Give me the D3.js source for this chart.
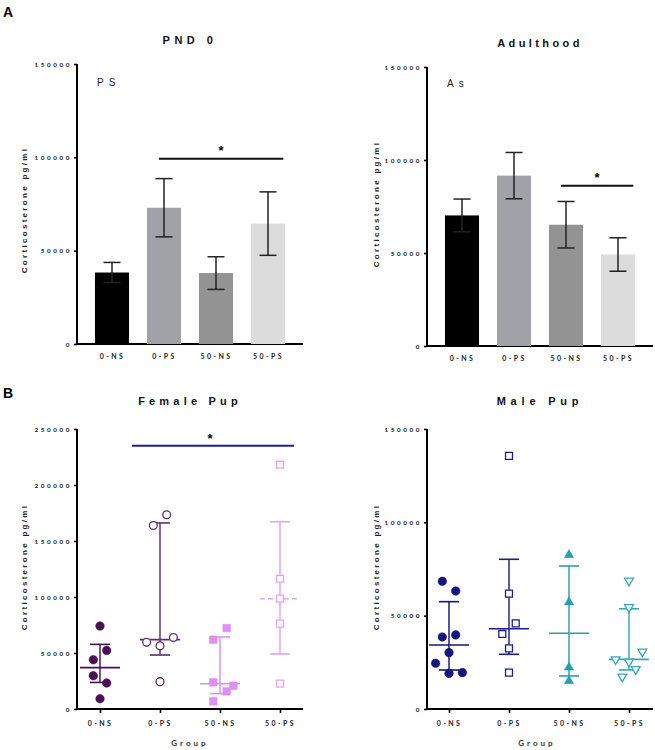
<!DOCTYPE html>
<html><head><meta charset="utf-8">
<script src="https://cdn.jsdelivr.net/npm/d3@7"></script>
<style>
body{margin:0;background:#fff;}
svg{display:block;font-family:"Liberation Sans",Arial,sans-serif;}
</style></head>
<body>
<svg id="c" width="655" height="750"></svg>
<script>
// ---------- DATA ----------
const groups = ["0-NS", "0-PS", "50-NS", "50-PS"];
const barTicks = [0, 50000, 100000, 150000];
const femaleTicks = [0, 50000, 100000, 150000, 200000, 250000];
const maleTicks = [0, 50000, 100000, 150000];

const pnd0Mean = [38300, 73000, 38000, 64500];
const pnd0Err  = [5400, 15600, 8750, 17000];
const adultMean = [70200, 91600, 65200, 49200];
const adultErr  = [8800, 12450, 12500, 9000];
const barColors = ["#000000", "#a1a1a8", "#939393", "#dcdcdc"];

const femaleValues = [
  [74100, 52300, 44000, 29700, 23200, 9200],
  [163900, 173500, 59500, 56500, 63900, 24400],
  [61900, 72300, 23750, 15700, 20800, 6800],
  [218100, 116300, 98500, 76200, 22600]
];
const femaleCols = [[0,1,-1,-1,1,0],[-1,1,-2,0,2,0],[-1,1,-1,1,2,-1],[0,0,0,0,0]];
const femaleMedian = [36900, 61900, 22600, 98500];
const femaleQ1 = [23700, 48200, 13700, 49100];
const femaleQ3 = [57700, 166100, 64300, 167200];
const femaleColors = ["#4b0e55", "#5e2d70", "#df8ff0", "#e4a2f3"];
const femaleShapes = ["circleFill", "circleOpen", "squareFill", "squareOpen"];

const maleValues = [
  [68400, 63200, 38600, 39700, 30200, 24500, 19100, 19500],
  [135600, 61800, 45900, 40200, 32500, 19500],
  [82500, 57200, 22300, 15000],
  [68700, 54500, 30700, 26600, 25300, 21300, 17300]
];
const maleCols = [[-1,1,-1,1,0,-2,0,2],[0,0,1,-1,0,0],[0,0,0,0],[0,0,2,-2,0,1,-1]];
const maleMedian = [34300, 43000, 40600, 26600];
const maleQ1 = [20900, 29300, 17700, 20900];
const maleQ3 = [57500, 80200, 76600, 53700];
const maleColors = ["#14157f", "#1c1d8a", "#2a9db0", "#36a7b8"];
const maleShapes = ["circleFill", "squareOpen", "triUpFill", "triDownOpen"];

// ---------- DRAW ----------
const svg = d3.select("#c");

function frame(p) {
  const g = svg.append("g");
  const y = d3.scaleLinear().domain([0, p.max]).range([p.y0, p.y1]);
  const x = d3.scalePoint().domain(groups).range([p.c0, p.c1]);
  // y axis
  const ya = g.append("g").attr("transform", `translate(${p.x0},0)`)
    .call(d3.axisLeft(y).tickValues(p.ticks).tickSize(3).tickSizeOuter(0).tickFormat(d3.format("d")));
  ya.select(".domain").attr("stroke-width", 2).attr("d", `M0,${p.y0+1}V${p.y1}`);
  ya.selectAll(".tick line").attr("stroke-width", 1.6);
  ya.selectAll(".tick text").attr("font-size", 6.3).attr("font-weight", "bold")
    .attr("letter-spacing", "2.6px").attr("fill", "#222").attr("x", -5).attr("dy", "0.35em")
    .attr("font-family", "Lato, sans-serif");
  // x axis
  const xa = g.append("g").attr("transform", `translate(0,${p.y0})`)
    .call(d3.axisBottom(x).tickSize(p.xTicks ? 3 : 0).tickSizeOuter(0));
  xa.select(".domain").remove();
  xa.selectAll(".tick line").attr("stroke-width", 1.6).attr("transform", "translate(0,1)");
  xa.selectAll(".tick text").attr("font-size", 7).attr("font-weight", "bold")
    .attr("letter-spacing", "2.4px").attr("fill", "#222").attr("y", p.xTicks ? 12 : 10).attr("dy", "0.71em")
    .attr("font-family", "Lato, sans-serif");
  g.append("line").attr("x1", p.x0 - 1).attr("x2", p.x1).attr("y1", p.y0).attr("y2", p.y0)
    .attr("stroke", "#000").attr("stroke-width", 2);
  // y label
  g.append("text").attr("transform", `translate(${p.ylx},${p.yly}) rotate(-90)`)
    .attr("text-anchor", "middle").attr("font-size", 8).attr("font-weight", "bold")
    .attr("letter-spacing", "2.3px").attr("fill", "#222").text("Corticosterone pg/ml");
  // title
  g.append("text").attr("x", p.tx).attr("y", p.ty).attr("text-anchor", "middle")
    .attr("font-size", 11).attr("font-weight", "bold").attr("letter-spacing", p.tls || "4px")
    .attr("fill", "#111").text(p.title);
  if (p.group) {
    g.append("text").attr("x", p.gx).attr("y", 746).attr("text-anchor", "middle")
      .attr("font-size", 8).attr("font-weight", "bold").attr("letter-spacing", "3px")
      .attr("fill", "#333").attr("font-family", "Lato, sans-serif").text("Group");
  }
  return {g, x, y};
}

function barPanel(p, means, errs) {
  const {g, x, y} = frame(p);
  const bw = x.step() * 0.655;
  g.selectAll("rect.bar").data(means).join("rect")
    .attr("x", (d, i) => x(groups[i]) - bw / 2).attr("width", bw)
    .attr("y", d => y(d)).attr("height", d => p.y0 - y(d))
    .attr("fill", (d, i) => barColors[i]);
  const eg = g.append("g").attr("stroke", "#222").attr("stroke-width", 1.5);
  means.forEach((m, i) => {
    const cx = x(groups[i]);
    eg.append("line").attr("x1", cx).attr("x2", cx).attr("y1", y(m + errs[i])).attr("y2", y(m - errs[i]));
    eg.append("line").attr("x1", cx - bw / 4).attr("x2", cx + bw / 4).attr("y1", y(m + errs[i])).attr("y2", y(m + errs[i]));
    eg.append("line").attr("x1", cx - bw / 4).attr("x2", cx + bw / 4).attr("y1", y(m - errs[i])).attr("y2", y(m - errs[i]));
  });
  // significance
  const a = x(groups[p.sig[0]]) - bw * 0.15, b = x(groups[p.sig[1]]) + bw * 0.45;
  g.append("line").attr("x1", a).attr("x2", b).attr("y1", y(p.sigY)).attr("y2", y(p.sigY))
    .attr("stroke", "#111").attr("stroke-width", 2);
  g.append("text").attr("x", (a + b) / 2).attr("y", y(p.sigY) - 4).attr("text-anchor", "middle")
    .attr("font-size", 13).attr("font-weight", "bold").text("*");
  g.append("text").attr("x", p.x0 + 20).attr("y", p.labY).attr("font-size", 10)
    .attr("letter-spacing", "5px").attr("fill", "#222").text(p.label);
}

function marker(g, shape, cx, cy, color) {
  const open = shape.endsWith("Open");
  let el;
  if (shape.startsWith("circle")) {
    el = g.append("circle").attr("cx", cx).attr("cy", cy).attr("r", open ? 3.9 : 4.3);
  } else if (shape.startsWith("square")) {
    el = g.append("path").attr("d", d3.symbol(d3.symbolSquare, open ? 48 : 58)())
      .attr("transform", `translate(${cx},${cy})`);
  } else {
    const up = shape.startsWith("triUp");
    el = g.append("path").attr("d", d3.symbol(d3.symbolTriangle, open ? 34 : 38)())
      .attr("transform", `translate(${cx},${cy}) rotate(${up ? 0 : 180})`);
  }
  el.attr("fill", open ? "#fff" : color).attr("stroke", color).attr("stroke-width", open ? 1.3 : 0.5);
}

function scatterPanel(p, values, cols, med, q1, q3, colors, shapes) {
  const {g, x, y} = frame(p);
  const lg = g.append("g"), mg = g.append("g");
  values.forEach((vals, i) => {
    const cx = x(groups[i]), c = colors[i];
    lg.append("line").attr("x1", cx).attr("x2", cx).attr("y1", y(q3[i])).attr("y2", y(q1[i]))
      .attr("stroke", c).attr("stroke-width", 1.6).attr("opacity", 0.9);
    [q1[i], q3[i]].forEach(v => lg.append("line").attr("x1", cx - 10).attr("x2", cx + 10)
      .attr("y1", y(v)).attr("y2", y(v)).attr("stroke", c).attr("stroke-width", 1.6));
    lg.append("line").attr("x1", cx - 20).attr("x2", cx + 20).attr("y1", y(med[i])).attr("y2", y(med[i]))
      .attr("stroke", c).attr("stroke-width", 1.6)
      .attr("stroke-dasharray", p.dashed === i ? "5,3" : null);
    vals.forEach((v, j) => marker(mg, shapes[i], cx + cols[i][j] * 6.7, y(v), c));
  });
  if (p.sig) {
    const a = x(groups[p.sig[0]]) - 28, b = x(groups[p.sig[1]]) + 14;
    g.append("line").attr("x1", a).attr("x2", b).attr("y1", y(p.sigY)).attr("y2", y(p.sigY))
      .attr("stroke", "#1f1f8f").attr("stroke-width", 2);
    g.append("text").attr("x", (a + b) / 2 - 3).attr("y", y(p.sigY) - 3).attr("text-anchor", "middle")
      .attr("font-size", 13).attr("font-weight", "bold").text("*");
  }
}

// panel letters
svg.append("text").attr("x", 3).attr("y", 17).attr("font-size", 14).attr("font-weight", "bold").text("A");
svg.append("text").attr("x", 3).attr("y", 398).attr("font-size", 14).attr("font-weight", "bold").text("B");

barPanel({x0: 77, x1: 303, y0: 344, y1: 64, max: 150000, c0: 112, c1: 268, ticks: barTicks,
  ylx: 27, yly: 210, tx: 190, ty: 44, title: "PND  0", tls: "4.5px",
  sig: [1, 3], sigY: 100000 * 0.993, label: "PS", labY: 86}, pnd0Mean, pnd0Err);

barPanel({x0: 427, x1: 653, y0: 346, y1: 67, max: 150000, c0: 462, c1: 618, ticks: barTicks,
  ylx: 379, yly: 204, tx: 540, ty: 47, title: "Adulthood", tls: "3.4px",
  sig: [2, 3], sigY: 86200, label: "As", labY: 87}, adultMean, adultErr);

scatterPanel({x0: 77, x1: 303, y0: 709, y1: 429, max: 250000, c0: 100, c1: 280, ticks: femaleTicks,
  ylx: 27, yly: 567, tx: 190, ty: 405, title: "Female Pup", tls: "4.2px", xTicks: true,
  group: true, gx: 190, sig: [1, 3], sigY: 235000, dashed: 3},
  femaleValues, femaleCols, femaleMedian, femaleQ1, femaleQ3, femaleColors, femaleShapes);

scatterPanel({x0: 427, x1: 653, y0: 709, y1: 429, max: 150000, c0: 449, c1: 629, ticks: maleTicks,
  ylx: 379, yly: 567, tx: 540, ty: 405, title: "Male Pup", tls: "4.8px", xTicks: true,
  group: true, gx: 537},
  maleValues, maleCols, maleMedian, maleQ1, maleQ3, maleColors, maleShapes);
</script>
</body></html>
